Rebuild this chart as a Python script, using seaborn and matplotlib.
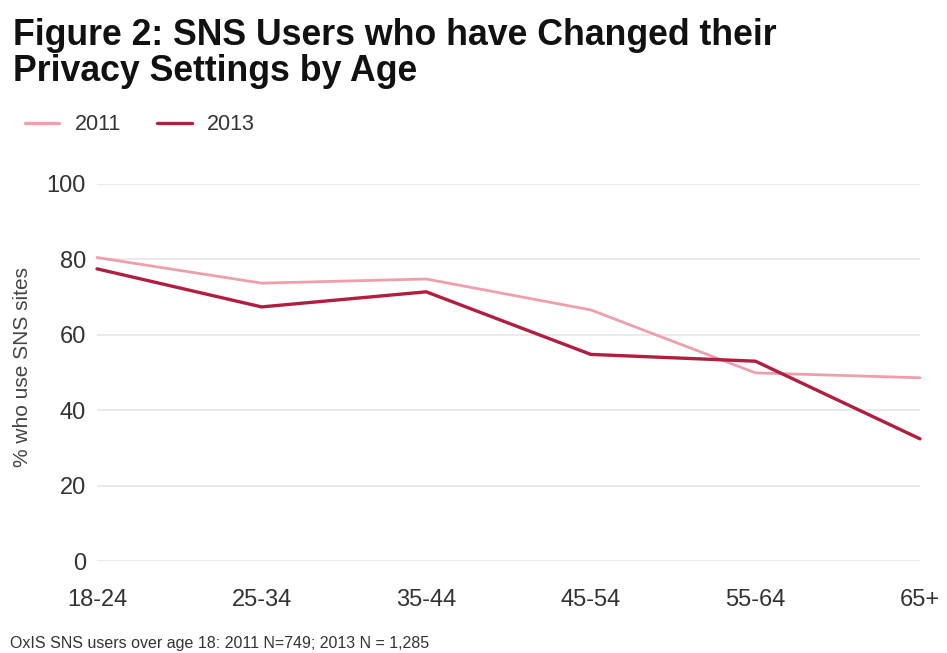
import matplotlib
matplotlib.use("Agg")
import matplotlib.pyplot as plt
import seaborn as sns
import pandas as pd

ages = ["18-24", "25-34", "35-44", "45-54", "55-64", "65+"]
pct_2011 = [80.5, 73.7, 74.8, 66.6, 49.9, 48.6]
pct_2013 = [77.5, 67.4, 71.4, 54.8, 53.0, 32.4]
years = ["2011", "2013"]
colors = {"2011": "#ef9fab", "2013": "#b01e40"}

df = pd.DataFrame({
    "age": ages * 2,
    "pos": list(range(len(ages))) * 2,
    "pct": pct_2011 + pct_2013,
    "year": ["2011"] * len(ages) + ["2013"] * len(ages),
})

sns.set_theme(style="white")
plt.rcParams["font.family"] = ["Liberation Sans", "DejaVu Sans"]

W, H = 947, 653
fig = plt.figure(figsize=(W / 100, H / 100), dpi=100)
ax = fig.add_axes([97 / W, 1 - 561 / H, (920 - 97) / W, (561 - 184) / H])

sns.lineplot(data=df, x="pos", y="pct", hue="year", palette=colors,
             hue_order=years, ax=ax, legend=False, linewidth=2.2)
for line, lw in zip(ax.lines, [2.0, 2.4]):
    line.set_linewidth(lw)
    line.set_clip_on(False)

ax.set_xlim(0, 5)
ax.set_ylim(0, 100)
ax.set_yticks([0, 20, 40, 60, 80, 100])
ax.set_xticks(range(len(ages)))
ax.set_xticklabels(ages)
ax.yaxis.grid(True, color="#e6e6e6", linewidth=1.2)
ax.xaxis.grid(False)
for s in ax.spines.values():
    s.set_visible(False)
ax.tick_params(axis="both", length=0, labelsize=17, colors="#333333")
ax.tick_params(axis="x", pad=20)
ax.tick_params(axis="y", pad=8)
ax.set_xlabel("")
ax.set_ylabel("")

fig.text(22 / W, 1 - 367 / H, "% who use SNS sites", rotation=90, fontsize=15,
         color="#444444", ha="center", va="center")

fig.text(13 / W, 1 - 45 / H, "Figure 2: SNS Users who have Changed their",
         fontsize=25.7, fontweight="bold", color="#111111", ha="left", va="baseline")
fig.text(13 / W, 1 - 81 / H, "Privacy Settings by Age",
         fontsize=25.7, fontweight="bold", color="#111111", ha="left", va="baseline")

handles = [plt.Line2D([], [], color=colors[y], linewidth=2.4) for y in years]
fig.legend(handles, years, loc="center left", bbox_to_anchor=(25 / W, 1 - 125 / H),
           ncol=2, frameon=False, fontsize=15.5, handlelength=1.6, columnspacing=1.7,
           handletextpad=0.7, borderpad=0, borderaxespad=0, labelcolor="#333333")

fig.text(10 / W, 1 - 648 / H, "OxIS SNS users over age 18: 2011 N=749; 2013 N = 1,285",
         fontsize=11.5, color="#333333", ha="left", va="baseline")

fig.savefig("out.png", dpi=100, facecolor="white")
